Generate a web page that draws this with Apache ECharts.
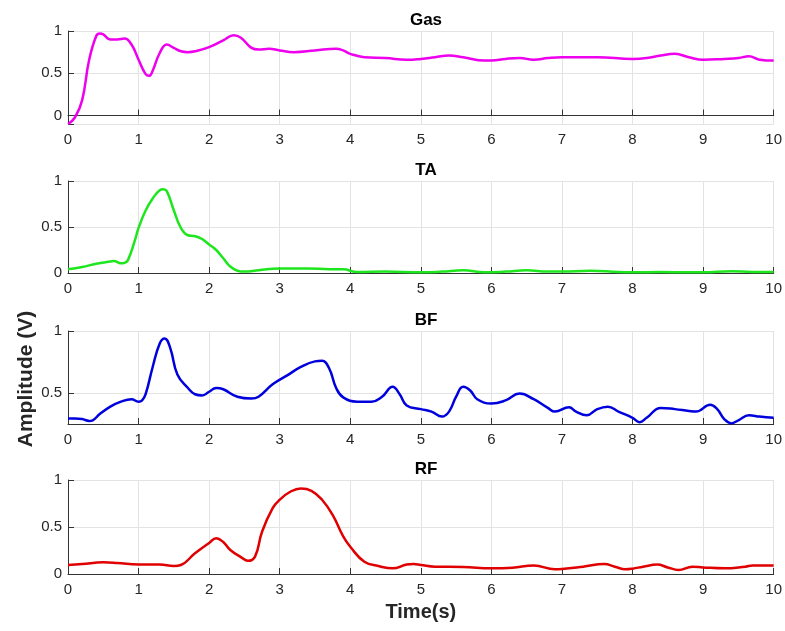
<!DOCTYPE html>
<html>
<head>
<meta charset="utf-8">
<script src="https://cdn.jsdelivr.net/npm/echarts@6/dist/echarts.min.js"></script>
<style>
  html, body { margin: 0; padding: 0; background: #fff; }
  #main { width: 785px; height: 631px; }
</style>
</head>
<body>
<div id="main"></div>
<script>
// 时间轴 / x 轴刻度
const xTicks = [0, 1, 2, 3, 4, 5, 6, 7, 8, 9, 10]

// Gas
const gasTime = [0, 0.1, 0.2, 0.3, 0.4, 0.45, 0.5, 0.6, 0.7, 0.8, 0.9, 1.0, 1.1, 1.15, 1.2, 1.3, 1.4, 1.5, 1.6, 1.7, 1.8, 2.0, 2.2, 2.35, 2.45, 2.6, 2.7, 2.85, 3.0, 3.2, 3.5, 3.8, 3.9, 4.0, 4.2, 4.5, 4.8, 5.0, 5.2, 5.4, 5.6, 5.9, 6.0, 6.2, 6.4, 6.6, 6.8, 7.0, 7.5, 8.0, 8.2, 8.4, 8.6, 8.8, 9.0, 9.3, 9.5, 9.65, 9.8, 10]
const gasValues = [-0.1, -0.02, 0.18, 0.66, 0.94, 0.97, 0.96, 0.9, 0.9, 0.91, 0.84, 0.66, 0.49, 0.47, 0.53, 0.74, 0.84, 0.8, 0.76, 0.75, 0.76, 0.81, 0.89, 0.95, 0.92, 0.8, 0.78, 0.79, 0.77, 0.75, 0.77, 0.79, 0.77, 0.73, 0.69, 0.68, 0.66, 0.67, 0.69, 0.71, 0.69, 0.65, 0.65, 0.67, 0.68, 0.66, 0.68, 0.69, 0.69, 0.67, 0.68, 0.71, 0.73, 0.69, 0.66, 0.67, 0.68, 0.7, 0.66, 0.65]

// TA
const taTime = [0, 0.2, 0.4, 0.6, 0.65, 0.75, 0.8, 0.85, 0.95, 1.0, 1.1, 1.2, 1.3, 1.35, 1.4, 1.5, 1.6, 1.7, 1.8, 1.9, 2.0, 2.1, 2.2, 2.3, 2.4, 2.5, 2.7, 3.0, 3.4, 3.7, 3.9, 4.1, 4.5, 5.0, 5.3, 5.6, 5.9, 6.2, 6.5, 6.8, 7.0, 7.4, 7.8, 8.0, 8.4, 8.8, 9.0, 9.4, 9.7, 10]
const taValues = [0.04, 0.065, 0.1, 0.125, 0.13, 0.105, 0.11, 0.14, 0.36, 0.49, 0.68, 0.81, 0.9, 0.91, 0.89, 0.68, 0.49, 0.41, 0.4, 0.37, 0.31, 0.25, 0.16, 0.07, 0.025, 0.015, 0.03, 0.05, 0.05, 0.04, 0.04, 0.01, 0.015, 0.007, 0.015, 0.03, 0.007, 0.015, 0.03, 0.015, 0.015, 0.025, 0.01, 0.007, 0.01, 0.007, 0.007, 0.02, 0.01, 0.01]

// BF
const bfTime = [0, 0.1, 0.2, 0.3, 0.35, 0.45, 0.6, 0.75, 0.9, 1.0, 1.05, 1.1, 1.2, 1.3, 1.37, 1.45, 1.55, 1.7, 1.8, 1.9, 2.0, 2.1, 2.2, 2.4, 2.6, 2.7, 2.9, 3.1, 3.3, 3.5, 3.6, 3.7, 3.8, 3.9, 4.1, 4.3, 4.45, 4.6, 4.7, 4.8, 5.0, 5.15, 5.3, 5.4, 5.5, 5.6, 5.7, 5.8, 6.0, 6.2, 6.4, 6.6, 6.8, 6.9, 7.1, 7.2, 7.35, 7.5, 7.65, 7.8, 8.0, 8.1, 8.2, 8.4, 8.6, 8.8, 8.9, 9.1, 9.2, 9.3, 9.4, 9.5, 9.65, 9.8, 10]
const bfValues = [0.295, 0.295, 0.29, 0.275, 0.28, 0.33, 0.39, 0.43, 0.45, 0.43, 0.44, 0.49, 0.71, 0.9, 0.94, 0.86, 0.65, 0.54, 0.49, 0.48, 0.51, 0.54, 0.53, 0.47, 0.455, 0.47, 0.57, 0.64, 0.71, 0.755, 0.76, 0.7, 0.54, 0.465, 0.43, 0.43, 0.47, 0.55, 0.49, 0.4, 0.37, 0.35, 0.31, 0.35, 0.47, 0.55, 0.52, 0.45, 0.415, 0.44, 0.495, 0.45, 0.38, 0.35, 0.385, 0.35, 0.32, 0.37, 0.39, 0.35, 0.3, 0.265, 0.3, 0.38, 0.37, 0.355, 0.35, 0.405, 0.37, 0.29, 0.255, 0.28, 0.32, 0.31, 0.3]

// RF
const rfTime = [0, 0.2, 0.5, 0.7, 1.0, 1.3, 1.5, 1.6, 1.8, 2.0, 2.1, 2.2, 2.3, 2.45, 2.55, 2.65, 2.75, 2.9, 3.0, 3.15, 3.3, 3.45, 3.6, 3.75, 3.9, 4.0, 4.2, 4.4, 4.6, 4.8, 4.9, 5.0, 5.2, 5.6, 6.0, 6.3, 6.6, 6.9, 7.0, 7.3, 7.6, 7.75, 7.9, 8.0, 8.15, 8.35, 8.5, 8.65, 8.85, 9.0, 9.3, 9.6, 9.7, 10]
const rfValues = [0.096, 0.106, 0.124, 0.117, 0.1, 0.1, 0.085, 0.096, 0.22, 0.33, 0.38, 0.34, 0.255, 0.18, 0.14, 0.185, 0.45, 0.7, 0.79, 0.875, 0.91, 0.885, 0.79, 0.63, 0.4, 0.29, 0.13, 0.085, 0.06, 0.1, 0.106, 0.096, 0.078, 0.075, 0.06, 0.067, 0.09, 0.05, 0.053, 0.078, 0.106, 0.078, 0.05, 0.057, 0.078, 0.1, 0.07, 0.043, 0.078, 0.07, 0.06, 0.078, 0.09, 0.09]

const panelNames = ['Gas', 'TA', 'BF', 'RF']
const yMins = [-0.1, 0, 0.25, 0]

let panels = [
  { time: gasTime, values: gasValues, color: '#ee00ee', top: 31, height: 93 },
  { time: taTime, values: taValues, color: '#1ee61e', top: 181, height: 92 },
  { time: bfTime, values: bfValues, color: '#0000dd', top: 331, height: 93 },
  { time: rfTime, values: rfValues, color: '#e00000', top: 480, height: 94 }
]

const font = 'Liberation Sans, Arial, sans-serif'
const axisColor = '#333333'
const gridColor = '#e3e3e3'

let chart = echarts.init(document.getElementById('main'), null, { renderer: 'canvas' })

let grid = [], xAxis = [], yAxis = [], series = [], title = []

panels.forEach((p, i) => {
  grid.push({ left: 68, right: 11, top: p.top, height: p.height })

  title.push({
    text: panelNames[i],
    left: 421,
    top: p.top - 24,
    textAlign: 'center',
    textStyle: { fontFamily: font, fontSize: 17, fontWeight: 'bold', color: '#000' }
  })

  xAxis.push({
    type: 'value',
    gridIndex: i,
    min: xTicks[0],
    max: xTicks[xTicks.length - 1],
    interval: 1,
    axisLine: { lineStyle: { color: axisColor, width: 1 } },
    axisTick: { inside: true, length: 6, lineStyle: { color: axisColor } },
    axisLabel: { margin: 8, fontFamily: font, fontSize: 15, color: '#262626' },
    splitLine: { show: true, lineStyle: { color: gridColor, width: 1 } },
    name: i === 3 ? 'Time(s)' : '',
    nameLocation: 'middle',
    nameGap: 28,
    nameTextStyle: { fontFamily: font, fontSize: 20, fontWeight: 'bold', color: '#262626' }
  })

  yAxis.push({
    type: 'value',
    gridIndex: i,
    min: yMins[i],
    max: 1,
    minInterval: 0.5,
    maxInterval: 0.5,
    axisLine: { show: true, lineStyle: { color: axisColor, width: 1 } },
    axisTick: { show: true, inside: true, length: 6, lineStyle: { color: axisColor } },
    axisLabel: {
      margin: 6,
      fontFamily: font,
      fontSize: 15,
      color: '#262626',
      formatter: v => Math.abs(v / 0.5 - Math.round(v / 0.5)) < 1e-6 ? String(v) : ''
    },
    splitLine: { show: true, lineStyle: { color: gridColor, width: 1 } }
  })

  series.push({
    type: 'line',
    xAxisIndex: i,
    yAxisIndex: i,
    data: p.time.map((t, k) => [t, p.values[k]]),
    smooth: 0.45,
    showSymbol: false,
    lineStyle: { color: p.color, width: 2.5 },
    animation: false
  })
})

let option = {
  backgroundColor: '#fff',
  animation: false,
  title: title,
  grid: grid,
  xAxis: xAxis,
  yAxis: yAxis,
  series: series,
  graphic: [
    {
      type: 'text',
      x: 26,
      y: 379,
      rotation: Math.PI / 2,
      style: {
        text: 'Amplitude (V)',
        font: 'bold 21px Liberation Sans, Arial, sans-serif',
        fill: '#262626',
        textAlign: 'center',
        textVerticalAlign: 'middle'
      }
    }
  ]
}

chart.setOption(option)
</script>
</body>
</html>
